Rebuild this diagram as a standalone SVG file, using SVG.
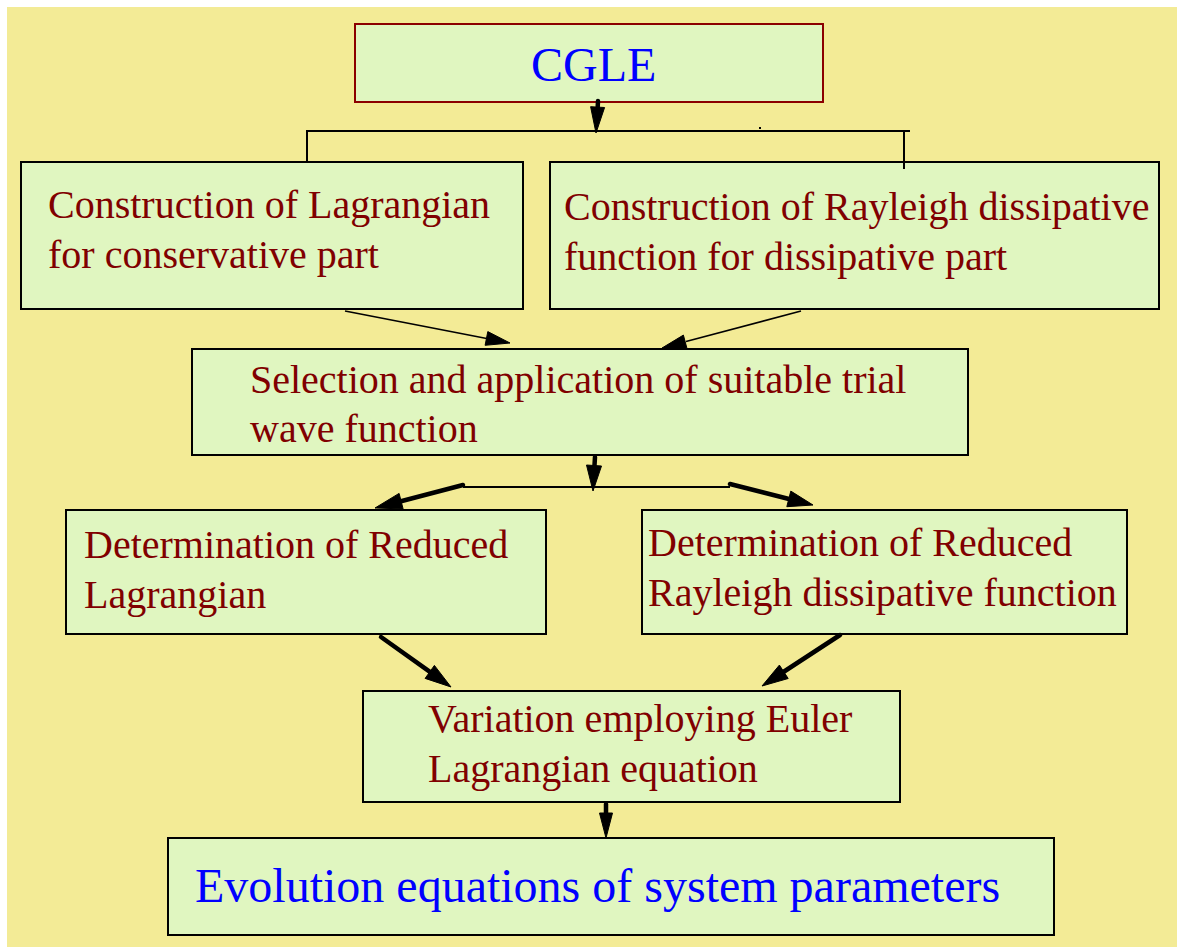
<svg xmlns="http://www.w3.org/2000/svg" width="1177" height="947" viewBox="0 0 1177 947">
  <style>
    .box { fill: #E0F6C0; stroke: #000; stroke-width: 2; }
    .top { fill: #E0F6C0; stroke: #8B0000; stroke-width: 2; }
    .lbl { font-family: "Liberation Serif", "Times New Roman", serif; font-size: 40px; fill: #800000; }
    .big { font-family: "Liberation Serif", "Times New Roman", serif; font-size: 48px; fill: #0000FF; }
    .thin { stroke: #000; stroke-width: 1.6; fill: none; }
    .thick { stroke: #000; stroke-width: 4.5; fill: none; stroke-linecap: round; }
    .line { stroke: #000; stroke-width: 2; fill: none; }
    .head { fill: #000; stroke: #000; stroke-width: 1; stroke-linejoin: round; }
  </style>

  <!-- page background -->
  <rect x="7" y="7" width="1170" height="940" fill="#F3EB96"/>

  <g id="cgle">
    <rect class="top" x="355" y="24" width="468" height="78"/>
    <text class="big" x="531" y="81">CGLE</text>
  </g>

  <g id="lagrangian">
    <rect class="box" x="21" y="162" width="502" height="147"/>
    <text class="lbl" x="48" y="218">Construction of Lagrangian</text>
    <text class="lbl" x="48" y="268">for conservative part</text>
  </g>

  <g id="rayleigh">
    <rect class="box" x="550" y="162" width="609" height="147"/>
    <text class="lbl" x="564" y="220">Construction of Rayleigh dissipative</text>
    <text class="lbl" x="564" y="270">function for dissipative part</text>
  </g>

  <g id="selection">
    <rect class="box" x="192" y="349" width="776" height="106"/>
    <text class="lbl" x="250" y="393">Selection and application of suitable trial</text>
    <text class="lbl" x="250" y="442">wave function</text>
  </g>

  <g id="reduced-lagrangian">
    <rect class="box" x="66" y="510" width="480" height="124"/>
    <text class="lbl" x="84" y="558">Determination of Reduced</text>
    <text class="lbl" x="84" y="608">Lagrangian</text>
  </g>

  <g id="reduced-rayleigh">
    <rect class="box" x="642" y="510" width="485" height="124"/>
    <text class="lbl" x="648" y="556">Determination of Reduced</text>
    <text class="lbl" x="648" y="606">Rayleigh dissipative function</text>
  </g>

  <g id="variation">
    <rect class="box" x="363" y="691" width="537" height="111"/>
    <text class="lbl" x="428" y="732">Variation employing Euler</text>
    <text class="lbl" x="428" y="782">Lagrangian equation</text>
  </g>

  <g id="evolution">
    <rect class="box" x="168" y="838" width="886" height="97"/>
    <text class="big" x="195" y="902">Evolution equations of system parameters</text>
  </g>

  <!-- connectors, drawn over the boxes -->
  <g id="connectors">
    <!-- fork below CGLE -->
    <line class="thick" x1="598" y1="101" x2="597.6" y2="109"/>
    <polygon class="head" points="596,133 590.6,106.7 604.6,107.5"/>
    <polyline class="line" points="307,161 307,131 910,131"/>
    <line class="line" x1="904" y1="131" x2="904" y2="169"/>
    <rect x="759" y="127" width="2" height="2" fill="#000"/>

    <!-- into selection box -->
    <line class="thin" x1="345" y1="311" x2="488" y2="338.7"/>
    <polygon class="head" points="510,343 485.1,345.3 487.8,331.6"/>
    <line class="thin" x1="801" y1="311" x2="686" y2="341.6"/>
    <polygon class="head" points="662,348 687,348.6 683.4,335.1"/>

    <!-- fork below selection -->
    <line class="thick" x1="595" y1="457" x2="594.4" y2="467"/>
    <polygon class="head" points="593,491 586.5,465 601.5,466"/>
    <line class="line" x1="463" y1="487" x2="730" y2="487"/>
    <line class="thick" x1="463" y1="485" x2="400" y2="501.5"/>
    <polygon class="head" points="375,508 399.1,493.4 403.1,508.9"/>
    <line class="thick" x1="730" y1="484" x2="790" y2="499.2"/>
    <polygon class="head" points="813,505 786.8,506.7 790.8,491.1"/>

    <!-- into variation box -->
    <line class="thick" x1="381" y1="637" x2="431" y2="672.7"/>
    <polygon class="head" points="451,687 425.1,678.4 434.4,665.4"/>
    <line class="thick" x1="840" y1="635" x2="782.6" y2="672.5"/>
    <polygon class="head" points="762,686 779.4,665.1 788.2,678.5"/>

    <!-- into evolution box -->
    <line class="thick" x1="606" y1="804" x2="606" y2="815"/>
    <polygon class="head" points="606,838 599.5,813 612.5,813"/>
  </g>
</svg>
